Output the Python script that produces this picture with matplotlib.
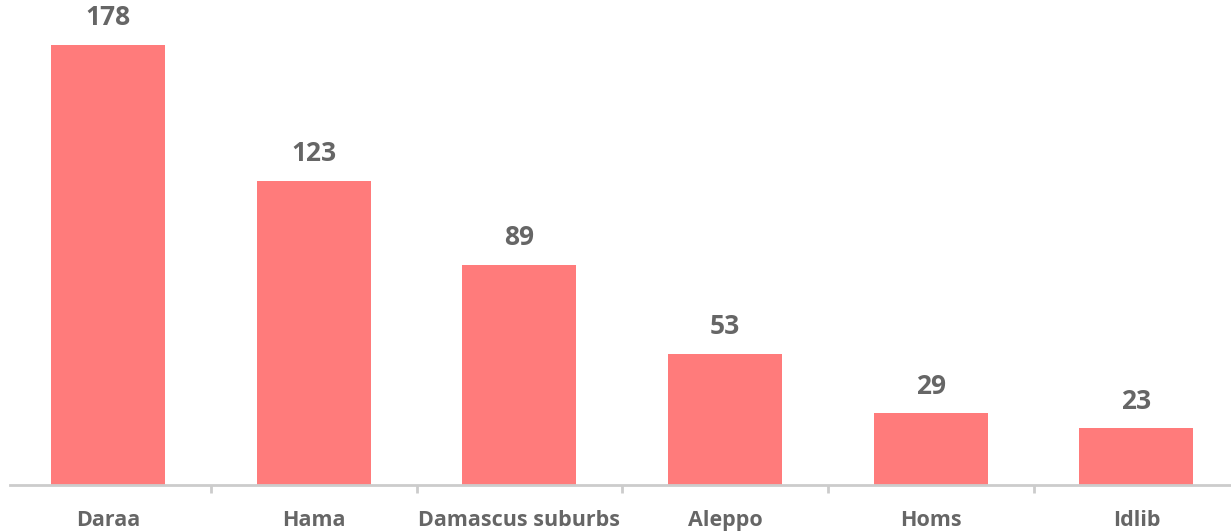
import matplotlib
matplotlib.use("Agg")
import matplotlib.pyplot as plt

categories = ["Daraa", "Hama", "Damascus suburbs", "Aleppo", "Homs", "Idlib"]
values = [178, 123, 89, 53, 29, 23]

bar_color = "#FF7B7B"
text_color = "#666666"
axis_color = "#CCCCCC"

plt.rcParams["font.family"] = ["Open Sans", "DejaVu Sans"]

W, H = 1231, 531
fig = plt.figure(figsize=(W / 100, H / 100), dpi=100)
ax = fig.add_axes([10 / W, 46 / H, 1 - 10 / W, 485 / H])

x = list(range(len(categories)))
ax.bar(x, values, width=0.555, color=bar_color, zorder=2)

ax.set_xlim(-0.477, 5.46)
ax.set_ylim(0, 196.2)

for xi, v in zip(x, values):
    ax.annotate(str(v), (xi, v), xytext=(0, 19.5), textcoords="offset points",
                ha="center", va="center", fontsize=19, fontweight="bold",
                color=text_color)

for s in ["top", "right", "left"]:
    ax.spines[s].set_visible(False)
ax.spines["bottom"].set_color(axis_color)
ax.spines["bottom"].set_linewidth(2)
ax.set_yticks([])

# category labels without tick marks, ticks placed between categories
ax.set_xticks(x)
ax.set_xticklabels(categories, fontsize=15.5, fontweight="bold", color=text_color)
ax.tick_params(axis="x", which="major", length=0, pad=18)
ax.set_xticks([i + 0.5 for i in range(len(categories) - 1)], minor=True)
ax.tick_params(axis="x", which="minor", length=6, width=2, color=axis_color)

fig.savefig("out.png", dpi=100)
